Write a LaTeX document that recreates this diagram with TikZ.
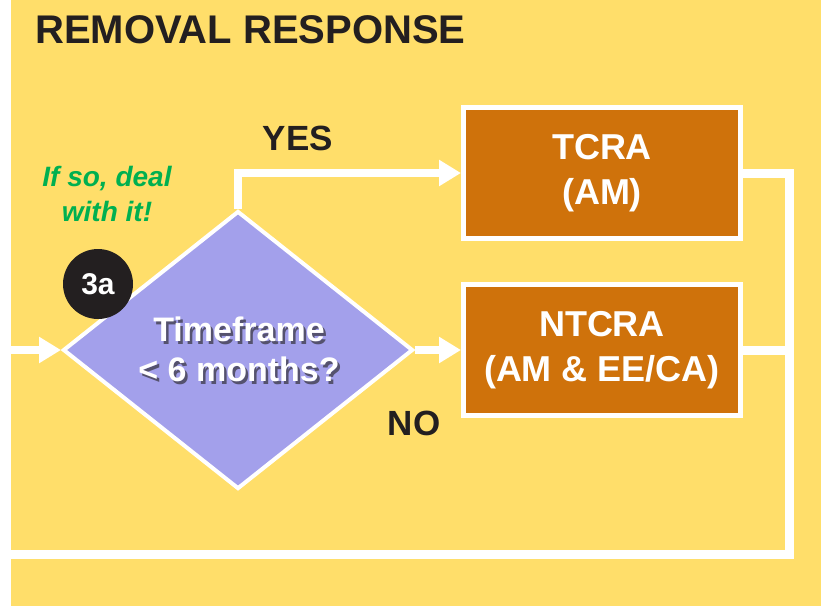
\documentclass[tikz,border=0pt]{standalone}
\usepackage{fontspec}
\setmainfont{Liberation Sans}
\usetikzlibrary{arrows.meta,shapes.geometric}
\definecolor{bgyellow}{RGB}{255,222,106}
\definecolor{boxorange}{RGB}{207,114,11}
\definecolor{declav}{RGB}{163,160,235}
\definecolor{darkink}{RGB}{35,31,32}
\definecolor{okgreen}{RGB}{0,176,80}
\definecolor{shadowgray}{RGB}{85,82,110}
\newcommand{\shadowline}[1]{\makebox[0pt][l]{\hspace{2.5pt}\raisebox{-2.5pt}{\textcolor{shadowgray}{#1}}}#1}
\tikzset{
  actbox/.style={rectangle, draw=white, line width=5pt, fill=boxorange, minimum width=277pt, minimum height=131pt, inner sep=0pt,
    text=white, align=center, font=\bfseries\fontsize{36}{45}\selectfont},
  flow/.style={draw=white, line width=8pt, -{Triangle[length=22pt,width=25pt]}},
  wline/.style={draw=white, line width=9pt},
  lbl/.style={text=darkink, inner sep=0pt, font=\bfseries\fontsize{35}{40}\selectfont},
}
\begin{document}
\begin{tikzpicture}[x=1pt,y=-1pt]
\useasboundingbox (0,0) rectangle (821,606);
\fill[white] (0,0) rectangle (821,606);
\fill[bgyellow] (11,0) rectangle (821,606);
% title
\node[anchor=base west, inner sep=0pt, text=darkink, font=\bfseries\fontsize{40}{44}\selectfont] (title) at (35,43) {REMOVAL RESPONSE};
% boxes
\node[actbox] (tcra) at (602,173) {TCRA\\(AM)};
\node[actbox] (ntcra) at (602,350) {NTCRA\\(AM \& EE/CA)};
% decision
\node[diamond, draw=white, line width=4pt, fill=declav, minimum width=350pt, minimum height=278pt, inner sep=0pt, aspect=1.26] (dec) at (238,350) {};
\node[text=white, align=center, font=\bfseries\fontsize{34}{40}\selectfont] (dectxt) at ([shift={(1,1)}]dec.center) {\shadowline{Timeframe}\\\shadowline{< 6 months?}};
% badge
\node[circle, fill=darkink, minimum size=70pt, inner sep=0pt, text=white, font=\bfseries\fontsize{30}{34}\selectfont] (badge) at (98,284) {3a};
% note
\node[text=okgreen, align=center, font=\bfseries\itshape\fontsize{28}{35}\selectfont] (note) at (107,194) {If so, deal\\with it!};
% labels
\node[lbl, anchor=base] (yes) at (298,150) {YES};
\node[lbl, anchor=base] (no) at (414,435) {NO};
% connectors
\coordinate (in) at (11,350);
\coordinate (ret) at (789,554);
\coordinate (retend) at (11,554);
\draw[flow] (in) -- (dec.west);
\draw[flow] (dec.north) |- (tcra.west);
\draw[flow] (dec.east) -- (ntcra.west);
\draw[wline] (tcra.east) -| (ret) -- (retend);
\draw[wline] (ntcra.east) -- (ntcra.east -| ret);
\end{tikzpicture}
\end{document}
